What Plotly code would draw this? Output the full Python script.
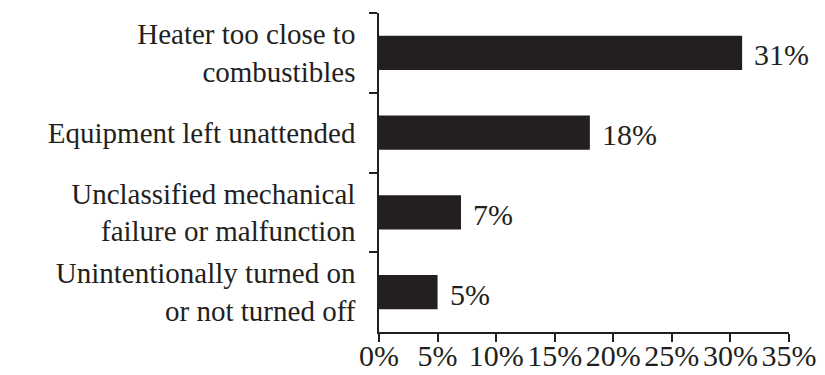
import plotly.graph_objects as go

categories = [
    "Heater too close to<br>combustibles",
    "Equipment left unattended",
    "Unclassified mechanical<br>failure or malfunction",
    "Unintentionally turned on<br>or not turned off",
]
values = [31, 18, 7, 5]
value_labels = ["31%", "18%", "7%", "5%"]
x_tickvals = [0, 5, 10, 15, 20, 25, 30, 35]
x_ticktext = ["0%", "5%", "10%", "15%", "20%", "25%", "30%", "35%"]

ink = "#231f20"
font = "Liberation Serif"

fig = go.Figure()
fig.add_trace(go.Bar(
    x=values, y=categories, orientation="h",
    marker=dict(color=ink, line=dict(width=0)),
    width=0.43, hoverinfo="skip",
))
for v, lab, c in zip(values, value_labels, categories):
    fig.add_annotation(x=v, y=c, text=lab, showarrow=False, xanchor="left",
                       xshift=10, yshift=-2, font=dict(family=font, size=30, color=ink))

fig.update_layout(
    width=825, height=375,
    margin=dict(l=379, r=36, t=13, b=43),
    paper_bgcolor="white", plot_bgcolor="white",
    showlegend=False,
    font=dict(family=font, color=ink),
)
fig.update_xaxes(
    range=[0, 35], tickvals=x_tickvals, ticktext=x_ticktext,
    showline=True, linecolor=ink, linewidth=1.5,
    ticks="outside", ticklen=8, tickwidth=1.5, tickcolor=ink,
    showgrid=False, zeroline=False, automargin=False,
    ticklabelstandoff=-12,
    tickfont=dict(family=font, size=30, color=ink),
)
fig.update_yaxes(
    categoryorder="array", categoryarray=categories,
    range=[3.5, -0.5],
    showline=True, linecolor=ink, linewidth=1.5,
    ticks="outside", ticklen=8, tickwidth=1.5, tickcolor=ink,
    tickson="boundaries", showgrid=False, zeroline=False, automargin=False,
    ticklabelstandoff=16,
    tickfont=dict(family=font, size=29, color=ink),
)

fig.write_html("out.html")
